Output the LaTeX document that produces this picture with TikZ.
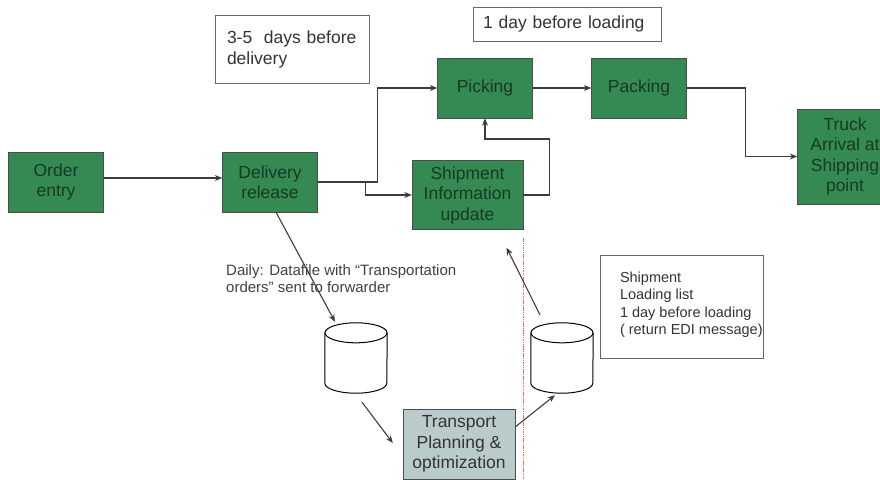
\documentclass[tikz,border=0pt]{standalone}
\usepackage{fontspec}
\setmainfont{Liberation Sans}
\usetikzlibrary{calc,arrows.meta}
\definecolor{stepgreen}{RGB}{52,138,82}
\definecolor{steptext}{RGB}{22,58,34}
\definecolor{planfill}{RGB}{186,203,204}
\definecolor{linegray}{RGB}{60,60,60}
\definecolor{cutred}{RGB}{225,110,110}

\begin{document}
\begin{tikzpicture}[x=1pt,y=-1pt,>={Stealth[length=7.5pt,width=6pt]},
    stepbox/.style={draw=black!70,fill=stepgreen,text=steptext,minimum width=95pt,minimum height=60pt,
      align=center,inner sep=1pt,font=\fontsize{17.5}{20.5}\selectfont},
    notebox/.style={draw=black!60,text=black!80,align=left,inner ysep=0pt},
    flow/.style={draw=linegray,line width=1.1pt}]
  \useasboundingbox (0,0) rectangle (880,479);
  \node[stepbox] (oe) at (56,182) {Order\\entry};
  \node[stepbox] (dr) at (270,182) {Delivery\\release};
  \node[stepbox] (pk) at (485,88) {Picking};
  \node[stepbox] (pa) at (639,88) {Packing};
  \node[stepbox,minimum height=95pt] (tr) at (845,156.5) {Truck\\Arrival at\\Shipping\\point};
  \node[stepbox,minimum width=111pt,minimum height=69pt] (si) at (467.5,195) {Shipment\\Information\\update};
  \node[stepbox,fill=planfill,text=black!80,minimum width=112pt,minimum height=70pt] (tp) at (459,444)
    {Transport\\Planning \&\\optimization};
  \node[notebox,text width=130pt,inner xsep=12pt,minimum height=68pt,font=\fontsize{17.5}{21}\selectfont]
    (days) at (292,49) {3-5\ \ days before\\delivery};
  \node[notebox,text width=168pt,inner xsep=10pt,minimum height=34pt,font=\fontsize{17.5}{21}\selectfont]
    (oneday) at (567,24) {1 day before loading};
  \node[notebox,minimum width=163pt,minimum height=103pt] (loadframe) at (681.5,306.5) {};
  \node[anchor=west,align=left,inner sep=0pt,text=black!80,font=\fontsize{14.5}{17.5}\selectfont]
    (loadlist) at ($(loadframe.west)+(20,-2)$) {Shipment\\Loading list\\1 day before loading\\( return EDI message)};
  \node[anchor=west,align=left,inner sep=0pt,text=black!75,font=\fontsize{15}{17}\selectfont]
    (datafile) at (226,279) {Daily: Datafile with “Transportation\\orders” sent to forwarder};
  \node[inner sep=0pt,minimum width=62pt,minimum height=70pt] (db1) at (356,358) {};
  \node[inner sep=0pt,minimum width=62pt,minimum height=70pt] (db2) at (562,358) {};
  \foreach \c in {db1,db2} {
    \draw[line width=1pt] ($(\c.north)+(0,10)$) ellipse[x radius=31pt,y radius=10pt];
    \draw[line width=1pt] ($(\c.north west)+(0,10)$) -- ($(\c.south west)+(0,-10)$)
      arc[start angle=180,end angle=360,x radius=31pt,y radius=10pt] -- ($(\c.north east)+(0,10)$);
  }
  \draw[cutred,dash pattern=on 1.5pt off 0.8pt,line width=0.9pt] (523,238) -- (523,479);
  \draw[flow,->] ($(oe.east)+(0,-4)$) -- ($(dr.west)+(0,-4)$);
  \draw[flow,->] (dr.east) -- ++(60,0) |- (pk.west);
  \draw[flow,->] ($(dr.east)+(48,0)$) |- (si.west);
  \draw[flow,->] (si.east) -- ++(26,0) -- ++(0,-56) -| (pk.south);
  \draw[flow,->] (pk.east) -- (pa.west);
  \draw[flow,->] (pa.east) -- ++(59,0) |- (tr.west);
  \draw[flow,->] ($(dr.south)+(6,0)$) -- ($(db1.north)+(-21,-1)$);
  \draw[flow,->] ($(db1.south)+(6,9)$) -- ($(tp.west)+(-10,-1)$);
  \draw[flow,->] ($(tp.east)+(0,-17)$) -- ($(db2.south)+(-7,2)$);
  \draw[flow,->] ($(db2.north)+(-22,-8)$) -- ($(si.south)+(39,18)$);
\end{tikzpicture}
\end{document}
